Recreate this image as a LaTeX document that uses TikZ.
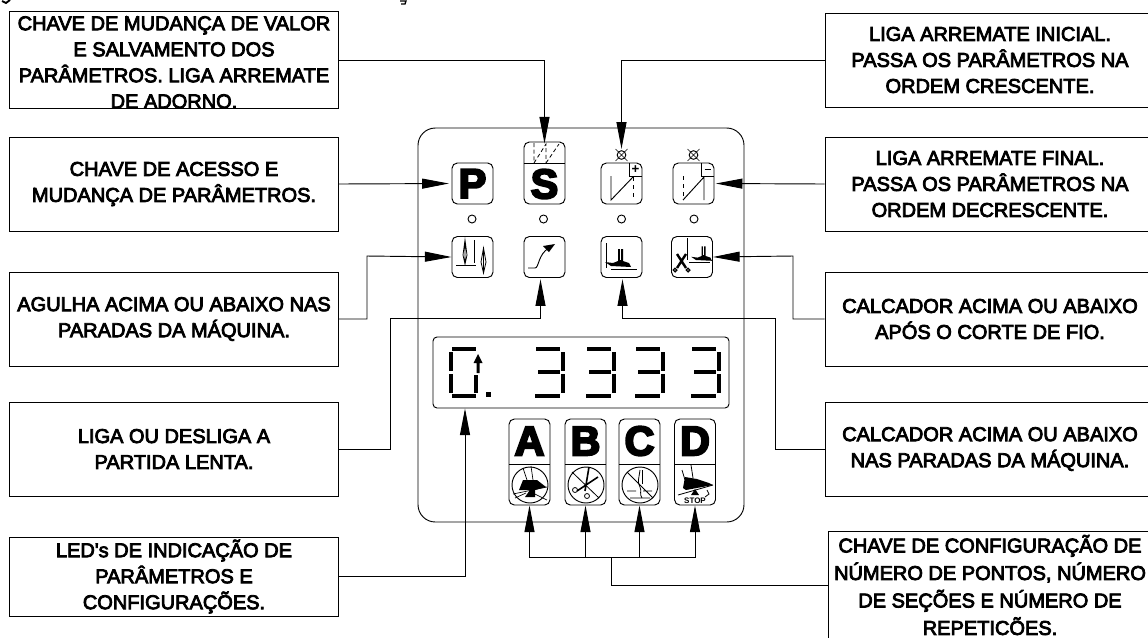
\documentclass[tikz,border=0pt]{standalone}
\usepackage{fontspec}
\usetikzlibrary{calc, arrows.meta}
\newfontfamily\lblfont[FakeBold=4]{Liberation Sans}
\newfontfamily\capfont[FakeBold=5]{Liberation Sans Bold}
\newfontfamily\stopfont{Liberation Sans Bold}

\begin{document}
\begin{tikzpicture}[
    x=0.75pt, y=-0.75pt,
    line width=0.7pt,
    lbl/.style   = {font=\lblfont\fontsize{15pt}{19.5pt}\selectfont},
    box/.style   = {draw, lbl, align=center, inner sep=0pt, minimum width=246.75pt, minimum height=70.5pt},
    boxr/.style  = {box, minimum width=247.5pt},
    conn/.style  = {-{Triangle[length=20pt,width=7.5pt]}},
    key/.style   = {draw, rounded corners=4pt, inner sep=0pt, minimum width=30.75pt, minimum height=30.75pt,
                    font=\capfont\fontsize{31pt}{31pt}\selectfont},
    led/.style   = {draw, circle, inner sep=0pt, minimum size=6pt},
    lamp/.style  = {draw, circle, inner sep=0pt, minimum size=6.5pt},
    seg/.style   = {line width=3.2pt},
    foot/.pic    = {
      \fill (-16,-4) -- (-10,0) -- (10,1) -- (8,-3) -- (2,-5) -- (2,-17) -- (-3,-17) -- (-3,-5) -- (-8,-3) -- cycle;
      \draw[white, line width=0.5pt] (-0.5,-17) -- (-0.5,-6);
    },
  ]
  \useasboundingbox (0,0) rectangle (1148,637);

  % ---------- clipped remains of the line above ----------
  \draw[line width=1.4pt] (2,1) -- (6,3) -- (10,0);
  \draw[line width=1pt] (400,1) -- (406,1) -- (405,4) -- (401,4);

  % ---------- text boxes, left ----------
  \node[box] (boxS) at (174,60) {\rule{0pt}{14pt}CHAVE DE MUDANÇA DE VALOR\\E SALVAMENTO DOS\\PARÂMETROS. LIGA ARREMATE\\DE ADORNO.};
  \node[box] (boxP) at (174,184) {CHAVE DE ACESSO E\\MUDANÇA DE PARÂMETROS.};
  \node[box] (boxNeedle) at (174,319) {AGULHA ACIMA OU ABAIXO NAS\\PARADAS DA MÁQUINA.};
  \node[box] (boxSlow) at (174,449) {LIGA OU DESLIGA A\\PARTIDA LENTA.};
  \node[box, minimum height=59.25pt] (boxLed) at (174,576.5) {LED's DE INDICAÇÃO DE\\PARÂMETROS E\\CONFIGURAÇÕES.};

  % ---------- text boxes, right ----------
  \node[boxr] (boxPlus) at (990,60) {LIGA ARREMATE INICIAL.\\PASSA OS PARÂMETROS NA\\ORDEM CRESCENTE.};
  \node[boxr] (boxMinus) at (990,184) {LIGA ARREMATE FINAL.\\PASSA OS PARÂMETROS NA\\ORDEM DECRESCENTE.};
  \node[boxr] (boxCut) at (990,319) {CALCADOR ACIMA OU ABAIXO\\APÓS O CORTE DE FIO.};
  \node[boxr] (boxFoot) at (990,449) {CALCADOR ACIMA OU ABAIXO\\NAS PARADAS DA MÁQUINA.};
  \node[boxr, minimum width=243pt, minimum height=81pt, font=\lblfont\fontsize{15pt}{20.6pt}\selectfont]
    (boxCfg) at (990,585) {CHAVE DE CONFIGURAÇÃO DE\\NÚMERO DE PONTOS, NÚMERO\\DE SEÇÕES E NÚMERO DE\\REPETICÕES.};

  % ---------- panel ----------
  \draw[rounded corners=13pt] (418,128) rectangle (744,522);

  % ---------- keys, first row ----------
  \node[key] (keyP) at (472.5,183.5) {P};
  \node[key, minimum height=46.5pt] (keyS) at (544.5,173) {};
  \node[font=\capfont\fontsize{31pt}{31pt}\selectfont] (lblS) at (544.5,184) {S};
  \node[key] (keyPlus) at (621.5,183.5) {};
  \node[key] (keyMinus) at (693.5,183.5) {};
  \draw (keyS.west |- 163,163) -- (keyS.east |- 163,163);
  \draw[densely dashed, line width=0.6pt] (534,143) -- (534,163) (534,163) -- (546,144) -- (546,163) (546,163) -- (559,144);

  \draw (629,163) -- (629,176) -- (642,176);
  \draw (701,163) -- (701,176) -- (714,176);
  \node[font=\stopfont\fontsize{10pt}{10pt}\selectfont, inner sep=0pt] (lblPlus) at (635.5,169.5) {+};
  \draw[line width=1pt] (704.5,169.5) -- (710.5,169.5);
  \draw (611,176) -- (611,200) -- (633,177);
  \draw[dashed] (633,177) -- (633,200);
  \draw[dashed] (683,176) -- (683,200);
  \draw (683,200) -- (704,177) -- (704,200);

  % ---------- lamps and LEDs ----------
  \node[lamp] (lampPlus) at (621.5,155) {};
  \node[lamp] (lampMinus) at (693.5,155) {};
  \foreach \lx in {621.5, 693.5} {
    \draw[line width=0.5pt] (\lx-6,149) -- (\lx+6,161) (\lx-6,161) -- (\lx+6,149);
  }
  \foreach \lx/\ln in {472/a, 543.5/b, 621.5/c, 694/d} {
    \node[led] (led\ln) at (\lx,219) {};
  }

  % ---------- keys, second row ----------
  \node[key] (keyNeedle) at (472.5,257) {};
  \node[key] (keySlow) at (544.5,257) {};
  \node[key] (keyFoot) at (621.5,257) {};
  \node[key] (keyCut) at (692,257) {};

  \draw (456,265) -- (476,265) (474.5,240) -- (474.5,263);
  \draw[line width=0.6pt] (465,240) -- (467,255) -- (465,264) -- (463,255) -- cycle (465,240) -- (465,264);
  \draw[line width=0.6pt] (483.5,248) -- (486,262) -- (483.5,273) -- (481,262) -- cycle (483.5,248) -- (483.5,273);
  \draw (528,268) -- (535,268) .. controls (539,268) and (538,254) .. (549,248);
  \fill (555,244) -- (543,246) -- (549,252) -- cycle;

  \draw (606,243) -- (606,268) (611,269) -- (637,269);
  \pic at (621,266) {foot};
  \draw (687,238) -- (687,260) (689,262) -- (710,262);
  \pic[scale=0.8] at (704,260) {foot};
  \draw[line width=1.8pt] (677,254) -- (686,268) (686,254) -- (677,268);
  \draw[line width=1pt] (675,270) circle (1.8) (688,270) circle (1.8);

  % ---------- display ----------
  \node[draw, rounded corners=3pt, inner sep=0pt, minimum width=222pt, minimum height=53.25pt] (display) at (581,372.5) {};
  % digit 0 with its arrow
  \draw[seg] (452,349) -- (476,349) (451,352) -- (451,371) (451,374) -- (451,393)
             (452,396) -- (476,396) (476,375) -- (476,393);
  \fill (478,354) -- (473.5,363) -- (476.5,363) -- (476.5,373) -- (479.5,373) -- (479.5,363) -- (482.5,363) -- cycle;
  \fill (486,392) rectangle (491,397);
  % digits 3
  \foreach \dx in {535, 586, 635, 691} {
    \draw[seg] (\dx+1,349) -- (\dx+25,349) (\dx+3,372) -- (\dx+25,372) (\dx,396) -- (\dx+25,396)
               (\dx+28,352) -- (\dx+28,371) (\dx+28,374) -- (\dx+28,393);
  }

  % ---------- keys A B C D ----------
  \foreach \kn/\kx in {A/529.5, B/585.5, C/639.5, D/695} {
    \node[key, minimum height=64.5pt] (key\kn) at (\kx,462) {};
    \node[font=\capfont\fontsize{31pt}{31pt}\selectfont, inner sep=0pt] (lbl\kn) at (\kx,441) {\kn};
    \draw (\kx-20.5,464) -- (\kx+20.5,464);
  }
  \draw (530,485) circle (18) (586,485) circle (18) (640,485) circle (18);

  % A
  \fill (519,490) -- (523,480) -- (537,480) -- (546,487) -- (535,490) -- (535,497) -- (525,497) -- (530,490) -- cycle;
  \draw[line width=0.5pt] (523,468) -- (527,480) (531,466) -- (533,480) (513,494) -- (547,487) (515,498) -- (526,493) (535,494) -- (547,500);
  % B
  \draw[line width=0.6pt] (572,472) -- (599,498);
  \draw[line width=1.2pt] (598,477) -- (577,491) (589,467) -- (585,491);
  \draw[line width=0.6pt] (575,490) circle (2.5) (587,496) circle (2.5);
  % C
  \draw[line width=0.6pt] (627,472) -- (653,498) (627,491) -- (636,491) (643,491) -- (652,491) (630,498) -- (650,498);
  \draw[line width=0.6pt] (640,470) .. controls (639,478) and (637,482) .. (640,487) .. controls (642,491) and (639,494) .. (642,498);
  \draw[line width=0.6pt] (642,470) -- (642,484);
  % D
  \fill (685,477) -- (697,479) -- (709,483) -- (713,485) -- (686,490) -- (683,488) -- cycle;
  \draw[line width=0.6pt] (682,470) -- (685,480) (691,465) -- (693,478) (678,495) -- (713,485);
  \fill (691,495) -- (699,495) -- (695,489) -- cycle;
  \draw[line width=0.6pt] (707,490) -- (709,494) -- (705,497);
  \node[font=\stopfont\fontsize{6pt}{6pt}\selectfont, inner sep=0pt] (lblStop) at (695,501) {STOP};

  % ---------- connectors ----------
  \draw[conn] (boxS.east) -| ([yshift=-1.5pt]keyS.north);
  \draw[conn] (boxPlus.west) -| ([yshift=1pt]lampPlus.north);
  \draw[conn, shorten >=2pt] (boxP.east) -- (keyP.west);
  \draw[conn, shorten >=1pt] (boxMinus.west) -- (keyMinus.east);

  \coordinate (bendNeedle) at (367,256);
  \draw[conn] (boxNeedle.east) -| (bendNeedle) -- (keyNeedle.west);
  \coordinate (bendSlow) at (390,318);
  \draw[conn] (boxSlow.east) -| (bendSlow) -| ([xshift=-3pt,yshift=-1pt]keySlow.south);
  \coordinate (bendFoot) at (775,318);
  \draw[conn] (boxFoot.west) -| (bendFoot) -| ([xshift=0.75pt,yshift=-1pt]keyFoot.south);
  \coordinate (bendCut) at (793,256);
  \draw[conn] (boxCut.west) -| (bendCut) -- (keyCut.east);
  \draw[conn] (boxLed.east) -| ([xshift=-87pt]display.south);

  \coordinate (busJoin) at (611,557);
  \draw (boxCfg.west) -| (busJoin);
  \foreach \kn in {A,B,C,D} {
    \draw[conn] (busJoin) -| (key\kn.south);
  }
\end{tikzpicture}
\end{document}
